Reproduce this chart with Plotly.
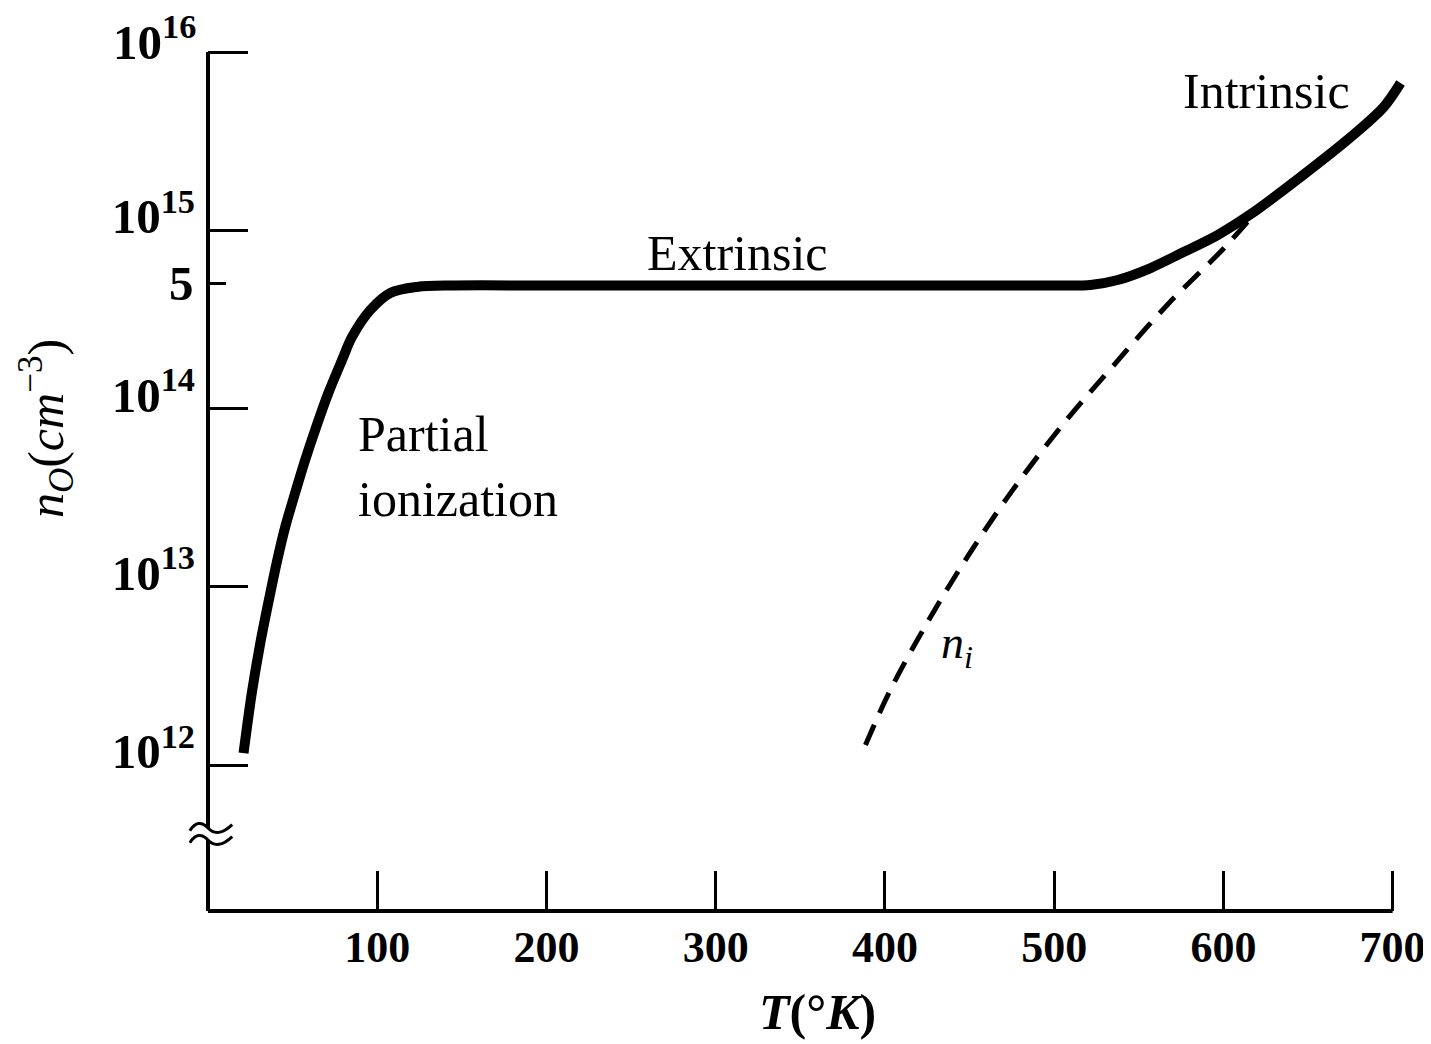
import plotly.graph_objects as go

# ---- data ----
T_n0 = [21.0, 25.9, 30.9, 36.8, 40.7, 45.6, 51.5, 57.4, 63.9, 71.1, 79.2, 85.1,
        95.9, 107.7, 123.5, 145, 200, 300, 400, 500, 521.5,
        537.5, 557, 576.5, 596.6, 616.1, 645.6, 675.2, 694.7, 704.7]
n0 = [1.167e12, 2.54e12, 4.83e12, 9.2e12, 1.38e13, 2.16e13, 3.36e13, 5.14e13,
      7.87e13, 1.22e14, 1.87e14, 2.52e14, 3.57e14, 4.45e14, 4.81e14, 4.9e14,
      4.9e14, 4.9e14, 4.9e14, 4.9e14, 4.93e14,
      5.26e14, 6.14e14, 7.55e14, 9.40e14, 1.23e15, 1.99e15, 3.33e15, 4.91e15, 6.70e15]

T_ni = [388.5, 403.2, 425.9, 449.5, 476.2, 505.7, 535.3, 566.8, 600.3, 619]
ni = [1.294e12, 2.636e12, 6.50e12, 1.51e13, 3.565e13, 8.26e13, 1.754e14,
      3.81e14, 7.93e14, 1.26e15]

x_ticks = [100, 200, 300, 400, 500, 600, 700]
y_ticks = [1e12, 1e13, 1e14, 1e15, 1e16]
y_ticktext = ["10<sup>12</sup>", "10<sup>13</sup>", "10<sup>14</sup>",
              "10<sup>15</sup>", ""]
y_top_label = "10<sup>16</sup>"
y_minor = [5e14]

SERIF = "Liberation Serif"
Y_LO, Y_HI = 11.181, 16.1235          # log10 range of the y axis
Y_TOP_LINE = (16 - Y_LO) / (Y_HI - Y_LO)   # paper position of 10^16

fig = go.Figure()
fig.add_trace(go.Scatter(x=T_n0, y=n0, mode="lines",
                         line=dict(color="black", width=10, shape="spline", smoothing=0.9),
                         showlegend=False, hoverinfo="skip"))
fig.add_trace(go.Scatter(x=T_ni, y=ni, mode="lines",
                         line=dict(color="black", width=5, dash="22px,13px",
                                   shape="spline", smoothing=1.0),
                         showlegend=False, hoverinfo="skip"))

xtickfont = dict(family=SERIF, size=44, color="black", weight="bold")
ytickfont = dict(family=SERIF, size=49, color="black", weight="bold")

fig.update_layout(
    width=1423, height=1036, autosize=False,
    margin=dict(l=200, r=13, t=22, b=133),
    paper_bgcolor="white", plot_bgcolor="white",
    xaxis=dict(range=[0, 715], tickmode="array", tickvals=x_ticks,
               ticks="inside", ticklen=40, tickwidth=3, tickcolor="black",
               showline=False, showgrid=False, zeroline=False,
               tickfont=xtickfont, ticklabelstandoff=6, automargin=False),
    yaxis=dict(type="log", range=[Y_LO, Y_HI], tickmode="array",
               tickvals=y_ticks, ticktext=y_ticktext,
               ticks="inside", ticklen=40, tickwidth=3, tickcolor="black",
               minor=dict(tickmode="array", tickvals=y_minor, ticks="inside",
                          ticklen=18, tickwidth=3, tickcolor="black", showgrid=False),
               showline=False, showgrid=False, zeroline=False,
               tickfont=ytickfont, ticklabelstandoff=12, ticklabelshift=-14,
               automargin=False),
)

# axis lines (x axis ends at 700 K, y axis ends at 10^16 and has a break below 10^12)
brk_lo, brk_hi = 0.0805, 0.0941
fig.add_shape(type="line", xref="x", yref="paper", x0=0, x1=700, y0=0, y1=0,
              line=dict(color="black", width=4), layer="above")
fig.add_shape(type="line", xref="paper", yref="paper", x0=0, x1=0, y0=0, y1=brk_lo,
              line=dict(color="black", width=4), layer="above")
fig.add_shape(type="line", xref="paper", yref="paper", x0=0, x1=0, y0=brk_hi,
              y1=Y_TOP_LINE, line=dict(color="black", width=4), layer="above")
# break squiggles
for yc in (brk_lo, brk_hi):
    p = (f"M -0.015,{yc - 0.003} Q -0.008,{yc + 0.0117} 0.0,{yc} "
         f"T 0.02,{yc + 0.004}")
    fig.add_shape(type="path", xref="paper", yref="paper", path=p,
                  line=dict(color="black", width=3), layer="above")

# top y tick label (kept as text next to the 10^16 tick)
fig.add_annotation(x=-0.0085, y=16, xref="paper", yref="y", text=y_top_label,
                   showarrow=False, xanchor="right", yanchor="middle", yshift=14,
                   font=ytickfont)

ann_font = dict(family=SERIF, size=50, color="black")
fig.add_annotation(x=575.0, y=15.78, xref="x", yref="y", text="Intrinsic",
                   showarrow=False, xanchor="left", yanchor="middle", font=ann_font)
fig.add_annotation(x=258.5, y=14.87, xref="x", yref="y", text="Extrinsic",
                   showarrow=False, xanchor="left", yanchor="middle", font=ann_font)
fig.add_annotation(x=87.5, y=13.675, xref="x", yref="y", text="Partial<br>ionization",
                   showarrow=False, xanchor="left", yanchor="middle", align="left",
                   font=ann_font)
fig.add_annotation(x=432, y=12.67, xref="x", yref="y",
                   text="<i>n</i><sub><i>i</i></sub>",
                   showarrow=False, xanchor="left", yanchor="middle",
                   font=dict(family=SERIF, size=46, color="black"))
fig.add_annotation(x=-0.010, y=14.699, xref="paper", yref="y", text="5",
                   showarrow=False, xanchor="right", yanchor="middle",
                   font=ytickfont)
fig.add_annotation(x=0.504, y=-0.1151, xref="paper", yref="paper",
                   text="<i>T</i>(°<i>K</i>)", showarrow=False,
                   xanchor="center", yanchor="middle",
                   font=dict(family=SERIF, size=50, color="black", weight="bold"))
fig.add_annotation(x=-0.134, y=0.548, xref="paper", yref="paper",
                   text="<i>n</i><sub><i>O</i></sub>(<i>cm</i><sup>−3</sup>)",
                   showarrow=False, textangle=-90, xanchor="center", yanchor="middle",
                   font=dict(family=SERIF, size=50, color="black"))

fig.write_html("out.html")
